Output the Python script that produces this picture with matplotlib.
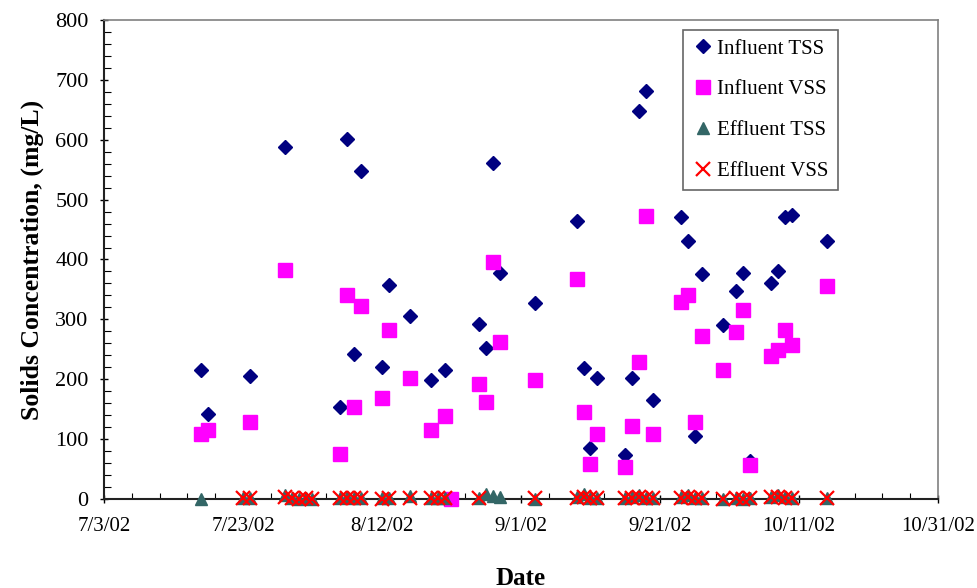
import matplotlib
matplotlib.use("Agg")
import matplotlib.pyplot as plt
import matplotlib.dates as mdates
from matplotlib.ticker import FuncFormatter, MultipleLocator
import pandas as pd

plt.rcParams["font.family"] = ["Liberation Serif", "DejaVu Serif"]

# Influent samples (mg/L)
inf_dates = ["7/17", "7/18", "7/24", "7/29", "8/6", "8/7", "8/8", "8/9", "8/12", "8/13",
             "8/16", "8/19", "8/21", "8/26", "8/27", "8/28", "8/29", "9/3", "9/9", "9/10",
             "9/11", "9/12", "9/16", "9/17", "9/18", "9/19", "9/20", "9/24", "9/25", "9/26",
             "9/27", "9/30", "10/2", "10/3", "10/4", "10/7", "10/8", "10/9", "10/10", "10/15"]
inf_tss = [215, 142, 205, 588, 154, 601, 242, 548, 221, 358,
           305, 199, 215, 293, 252, 561, 378, 328, 465, 218,
           85, 202, 73, 202, 648, 682, 165, 471, 431, 105,
           375, 291, 348, 378, 64, 361, 381, 471, 474, 431]

vss_dates = ["7/17", "7/18", "7/24", "7/29", "8/6", "8/7", "8/8", "8/9", "8/12", "8/13",
             "8/16", "8/19", "8/21", "8/22", "8/26", "8/27", "8/28", "8/29", "9/3", "9/9",
             "9/10", "9/11", "9/12", "9/16", "9/17", "9/18", "9/19", "9/20", "9/24", "9/25",
             "9/26", "9/27", "9/30", "10/2", "10/3", "10/4", "10/7", "10/8", "10/9", "10/10",
             "10/15"]
inf_vss = [108, 116, 128, 382, 75, 341, 154, 322, 169, 282,
           202, 116, 139, 0, 192, 162, 395, 262, 199, 368,
           145, 59, 109, 53, 122, 228, 472, 109, 329, 341,
           128, 272, 215, 279, 315, 56, 238, 248, 283, 258,
           355]

# Effluent samples (mg/L)
eff_tss_dates = ["7/17", "7/23", "7/24", "7/29", "7/30", "7/31", "8/1", "8/2", "8/6", "8/7",
                 "8/8", "8/9", "8/12", "8/13", "8/16", "8/19", "8/20", "8/21", "8/26", "8/27",
                 "8/28", "8/29", "9/3", "9/9", "9/10", "9/11", "9/12", "9/16", "9/17", "9/18",
                 "9/19", "9/20", "9/24", "9/25", "9/26", "9/27", "9/30", "10/2", "10/3", "10/4",
                 "10/7", "10/8", "10/9", "10/10", "10/15"]
eff_tss = [0, 2, 2, 7, 1, 0, 1, 0, 2, 3,
           1, 1, 1, 1, 5, 1, 2, 1, 2, 8,
           5, 4, 0, 3, 9, 2, 1, 2, 3, 6,
           2, 1, 3, 7, 2, 1, 0, 1, 0, 1,
           3, 6, 3, 2, 1]

eff_vss_dates = ["7/23", "7/24", "7/29", "7/30", "7/31", "8/1", "8/2", "8/6", "8/7", "8/8",
                 "8/9", "8/12", "8/13", "8/16", "8/19", "8/20", "8/21", "8/26", "9/3", "9/9",
                 "9/10", "9/11", "9/12", "9/16", "9/17", "9/18", "9/19", "9/20", "9/24", "9/25",
                 "9/26", "9/27", "9/30", "10/2", "10/3", "10/4", "10/7", "10/8", "10/9", "10/10",
                 "10/15"]
eff_vss = [1, 1, 3, 1, 0, 1, 0, 1, 2, 1,
           1, 0, 1, 2, 1, 2, 1, 2, 1, 2,
           4, 2, 1, 1, 2, 3, 2, 1, 2, 4,
           2, 1, 0, 1, 0, 1, 3, 4, 2, 2,
           1]


def to_dt(days):
    return pd.to_datetime([d + "/2002" for d in days], format="%m/%d/%Y")


def date_label(v, pos):
    d = mdates.num2date(v)
    return "{}/{}/{:%y}".format(d.month, d.day, d)


fig = plt.figure(figsize=(9.78, 5.88), dpi=100)
ax = fig.add_axes([0.1063, 0.1514, 0.8528, 0.8146])

common = dict(ls="none", clip_on=False, zorder=4)
ax.plot(to_dt(inf_dates), inf_tss, marker="D", ms=6.8,
        color="#000080", label="Influent TSS", **common)
ax.plot(to_dt(vss_dates), inf_vss, marker="s", ms=9.6,
        color="#FF00FF", label="Influent VSS", **common)
ax.plot(to_dt(eff_tss_dates), eff_tss, marker="^", ms=8.8,
        color="#336666", label="Effluent TSS", **common)
ax.plot(to_dt(eff_vss_dates), eff_vss, marker="x", ms=9.5, mew=1.6,
        color="#FF0000", label="Effluent VSS", **common)

start = pd.Timestamp("2002-07-03")
ax.set_xlim(start, start + pd.Timedelta(days=120))
ax.set_ylim(0, 800)

ax.set_xticks(pd.date_range(start, periods=7, freq="20D"))
ax.set_xticks(pd.date_range(start, periods=31, freq="4D"), minor=True)
ax.xaxis.set_major_formatter(FuncFormatter(date_label))
ax.yaxis.set_major_locator(MultipleLocator(100))
ax.yaxis.set_minor_locator(MultipleLocator(20))

ax.tick_params(axis="both", which="major", direction="inout", length=6, width=1,
               colors="black")
ax.tick_params(axis="y", which="major", labelsize=16, pad=8)
ax.tick_params(axis="x", which="major", labelsize=15, pad=10)
ax.tick_params(axis="y", which="minor", direction="in", length=5, width=0.8)
ax.tick_params(axis="x", which="minor", direction="in", length=4, width=0.8)

for side in ["left", "bottom"]:
    ax.spines[side].set_color("#222222")
    ax.spines[side].set_linewidth(1.5)
for side in ["top", "right"]:
    ax.spines[side].set_color("#808080")
    ax.spines[side].set_linewidth(1.2)

ax.set_ylabel("Solids Concentration, (mg/L)", fontsize=18.5, fontweight="bold", labelpad=8)
ax.set_xlabel("Date", fontsize=18, fontweight="bold", labelpad=22)

leg = ax.legend(loc="upper left", bbox_to_anchor=(0.694, 0.98), fontsize=15,
                frameon=True, fancybox=False, edgecolor="#404040", labelspacing=1.02,
                handletextpad=0.2, handlelength=1.0, borderpad=0.45, borderaxespad=0)
leg.get_frame().set_linewidth(1.2)
leg.set_zorder(5)

fig.savefig("out.png", dpi=100)
